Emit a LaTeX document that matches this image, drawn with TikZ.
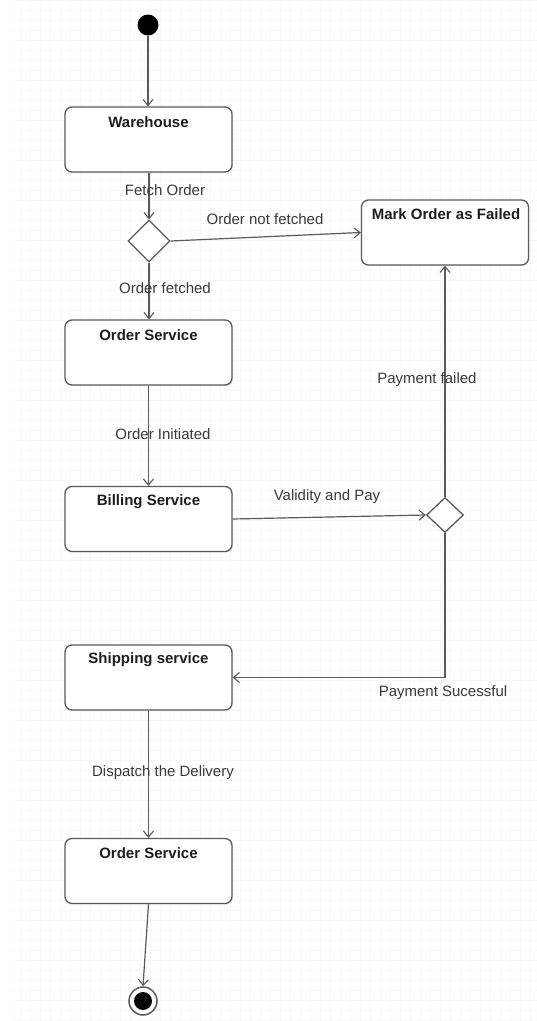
\documentclass[tikz,border=0pt]{standalone}
\usepackage{fontspec}
\setmainfont{Liberation Sans}
\usetikzlibrary{arrows.meta,shapes.geometric,shadows}
\definecolor{linec}{HTML}{5A5A5A}
\definecolor{txtc}{HTML}{3A3A3A}
\definecolor{titlec}{HTML}{1E1E1E}
\definecolor{gridc}{HTML}{F7F7F7}
\begin{document}
\begin{tikzpicture}[x=1pt,y=-1pt,
  box/.style={draw=linec, line width=1.3pt, rounded corners=7pt, fill=white,
    minimum width=167pt, minimum height=65pt, inner sep=0pt,
    drop shadow={opacity=0.12, shadow xshift=1.2pt, shadow yshift=-1.2pt}},
  title/.style={font=\fontsize{15}{17}\selectfont\bfseries, text=titlec, inner sep=0pt},
  lbl/.style={font=\fontsize{15}{17}\selectfont, text=txtc, inner sep=0pt},
  dec/.style={draw=linec, line width=1.3pt, shape=diamond, fill=white, inner sep=0pt, aspect=1},
  arr/.style={draw=linec, line width=1.2pt, -{Straight Barb[length=6pt,width=10pt,line width=1.1pt]}}
]
\useasboundingbox (0,0) rectangle (537,1021);
\fill[white] (0,0) rectangle (537,1021);
\draw[gridc, line width=0.5pt, step=10pt] (12,0) grid (537,1021);

% start and end
\node[circle, fill=black, minimum size=21pt, inner sep=0pt] (start) at (148,25) {};
\node[circle, draw=linec, line width=1.5pt, fill=white, minimum size=28pt, inner sep=0pt] (stop) at (143,1001) {};
\fill[black] (stop.center) circle (9pt);

% boxes
\node[box] (wh)   at (148.5,139.5) {};
\node[box] (fail) at (445,232.5) {};
\node[box] (os1)  at (148.5,352.5) {};
\node[box] (bill) at (148.5,519) {};
\node[box] (ship) at (148.5,677.5) {};
\node[box] (os2)  at (148.5,871) {};

\node[title] (twh)   at (148.5,122) {Warehouse};
\node[title] (tfail) at (446,214) {Mark Order as Failed};
\node[title] (tos1)  at (148.5,335) {Order Service};
\node[title] (tbill) at (148.5,502) {Billing Service};
\node[title] (tship) at (148.5,660) {Shipping service};
\node[title] (tos2)  at (148.5,853) {Order Service};

% decisions
\node[dec, minimum width=42pt, minimum height=42pt] (d1) at (149,241) {};
\node[dec, minimum width=37pt, minimum height=35pt] (d2) at (445,515) {};

% connectors
\draw[arr] (start) -- (wh.north -| start);
\draw[arr] (wh.south -| d1) -- (d1.north);
\draw[arr] (d1.east) -- (fail.west);
\draw[arr] (d1.south) -- (os1.north -| d1);
\draw[arr] (os1) -- (bill);
\draw[arr] (bill.east) -- (d2.west);
\draw[arr] (d2.north) -- (fail.south);
\draw[arr] (d2.south) |- (ship.east);
\draw[arr] (ship) -- (os2);
\draw[arr] (os2.south) -- (stop.north);

% labels
\node[lbl] (lfetch)   at (165,190) {Fetch Order};
\node[lbl] (lnot)     at (265,219) {Order not fetched};
\node[lbl] (lfetched) at (165,288) {Order fetched};
\node[lbl] (linit)    at (163,434) {Order Initiated};
\node[lbl] (lpay)     at (327,497) {Validity and Pay};
\node[lbl] (lfailed)  at (427,380) {Payment failed};
\node[lbl] (lsucc)    at (443,693) {Payment Sucessful};
\node[lbl] (ldisp)    at (163,773) {Dispatch the Delivery};
\end{tikzpicture}
\end{document}
